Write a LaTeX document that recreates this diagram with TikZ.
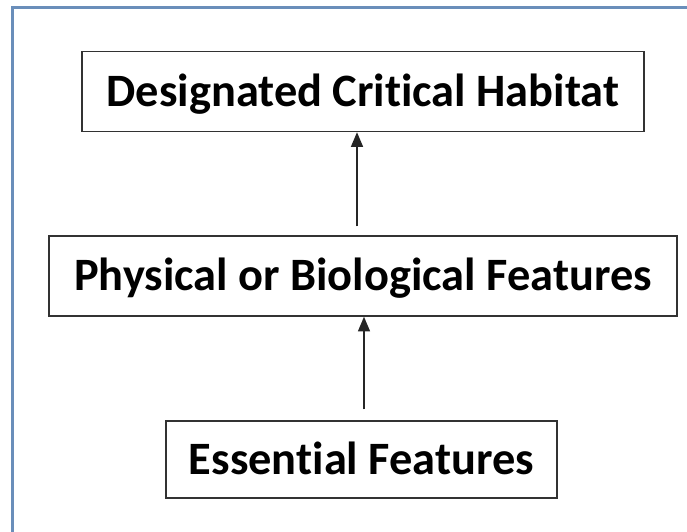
\documentclass[tikz,border=0pt]{standalone}
\usepackage{fontspec}
\setmainfont{Carlito}[RawFeature={-liga}]
\usetikzlibrary{arrows.meta}
\definecolor{framecol}{RGB}{106,142,186}
\definecolor{boxcol}{RGB}{50,50,50}
\tikzset{
  stepbox/.style={draw=boxcol, line width=1.1pt, inner sep=0pt, align=center,
    font=\fontsize{34.8}{40}\bfseries\selectfont, text height=22.4pt, text depth=0pt},
  arr/.style={draw=black!85, line width=1.1pt, -{Triangle[length=11pt,width=9pt]}}
}
\begin{document}
\begin{tikzpicture}[x=0.75pt,y=-0.75pt]
\useasboundingbox (0,0) rectangle (687,532);
\clip (0,0) rectangle (687,532);
\draw[framecol, line width=1.6pt] (12.5,545) -- (12.5,7.5) -- (700,7.5);
\node[stepbox, minimum width=562*0.75pt, minimum height=80*0.75pt] (top) at (363,91.5) {Designated Critical Habitat};
\node[stepbox, minimum width=628*0.75pt, minimum height=80*0.75pt] (mid) at (363,276) {Physical or Biological Features};
\node[stepbox, minimum width=391*0.75pt, minimum height=77*0.75pt] (bot) at (361.5,459.5) {Essential Features};
\coordinate (ax1) at (357,0);
\coordinate (ax2) at (364,0);
\draw[arr, shorten <=6.75pt] (mid.north -| ax1) -- (top.south -| ax1);
\draw[arr, shorten <=8.25pt] (bot.north -| ax2) -- (mid.south -| ax2);
\end{tikzpicture}
\end{document}
